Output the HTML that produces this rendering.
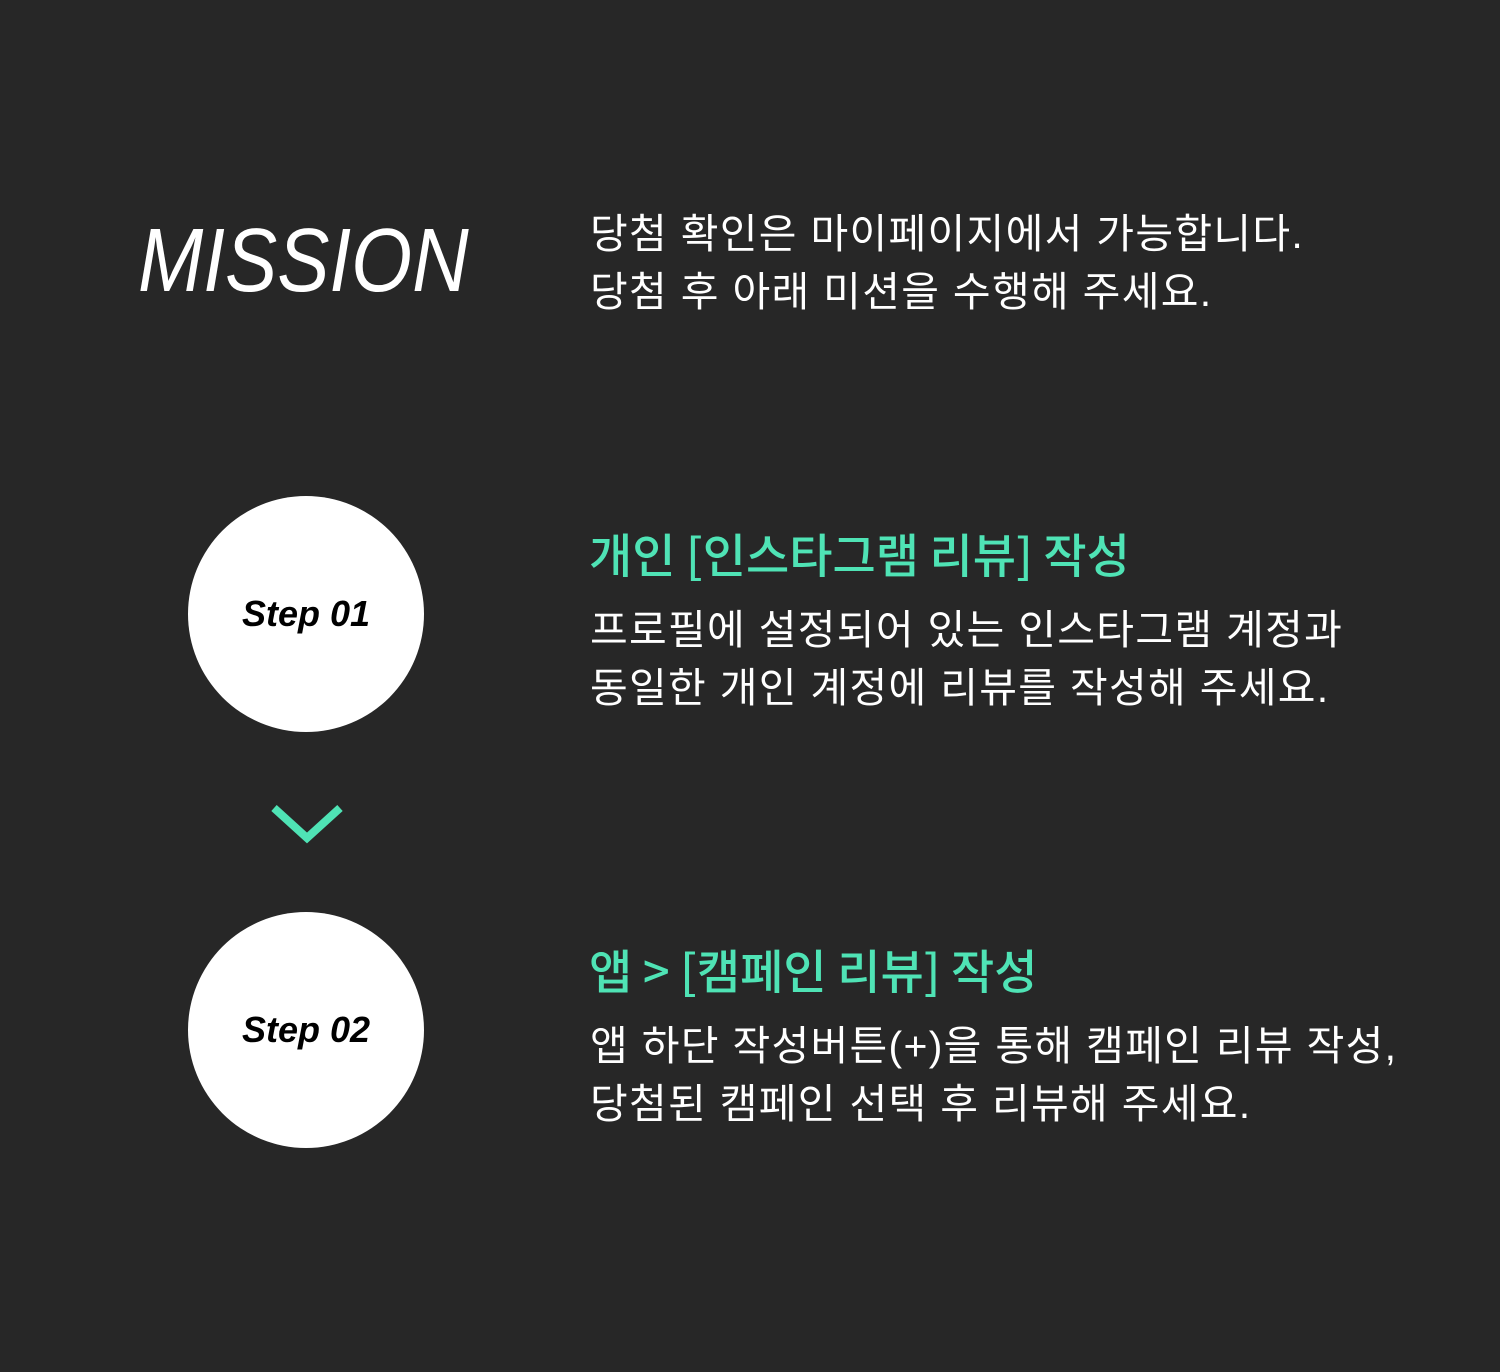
<!DOCTYPE html>
<html><head><meta charset="utf-8"><style>
html,body{margin:0;padding:0;background:#272727;}
body{width:1500px;height:1372px;position:relative;overflow:hidden;font-family:"Liberation Sans","Noto Sans CJK KR",sans-serif;}
.t{position:absolute;left:590px;color:#fff;font-size:41px;letter-spacing:1.3px;line-height:58px;white-space:nowrap;font-family:"Liberation Sans","Noto Sans CJK KR",sans-serif;}
.h{position:absolute;left:589px;color:#4fe3b5;font-size:47px;line-height:60px;font-weight:500;white-space:nowrap;font-family:"Noto Sans CJK KR",sans-serif;}
.c{position:absolute;left:188px;width:236px;height:236px;border-radius:50%;background:#fff;display:flex;align-items:center;justify-content:center;font-style:italic;font-weight:bold;font-size:36px;color:#000;}
</style></head><body>
<div style="position:absolute;left:138px;top:206px;font-size:90px;font-style:italic;color:#fff;line-height:110px;transform:scaleX(0.87);transform-origin:left top;">MISSION</div>
<div class="t" style="top:205px">당첨 확인은 마이페이지에서 가능합니다.<br>당첨 후 아래 미션을 수행해 주세요.</div>
<div class="c" style="top:496px">Step 01</div>
<div class="h" style="top:523px">개인 [인스타그램 리뷰] 작성</div>
<div class="t" style="top:601px">프로필에 설정되어 있는 인스타그램 계정과<br>동일한 개인 계정에 리뷰를 작성해 주세요.</div>
<svg style="position:absolute;left:0;top:0" width="1500" height="1372"><polyline points="274,808 307,838 340,808" fill="none" stroke="#4fe3b5" stroke-width="8"/></svg>
<div class="c" style="top:912px">Step 02</div>
<div class="h" style="top:939px">앱 &gt; [캠페인 리뷰] 작성</div>
<div class="t" style="top:1017px">앱 하단 작성버튼(+)을 통해 캠페인 리뷰 작성,<br>당첨된 캠페인 선택 후 리뷰해 주세요.</div>
</body></html>
